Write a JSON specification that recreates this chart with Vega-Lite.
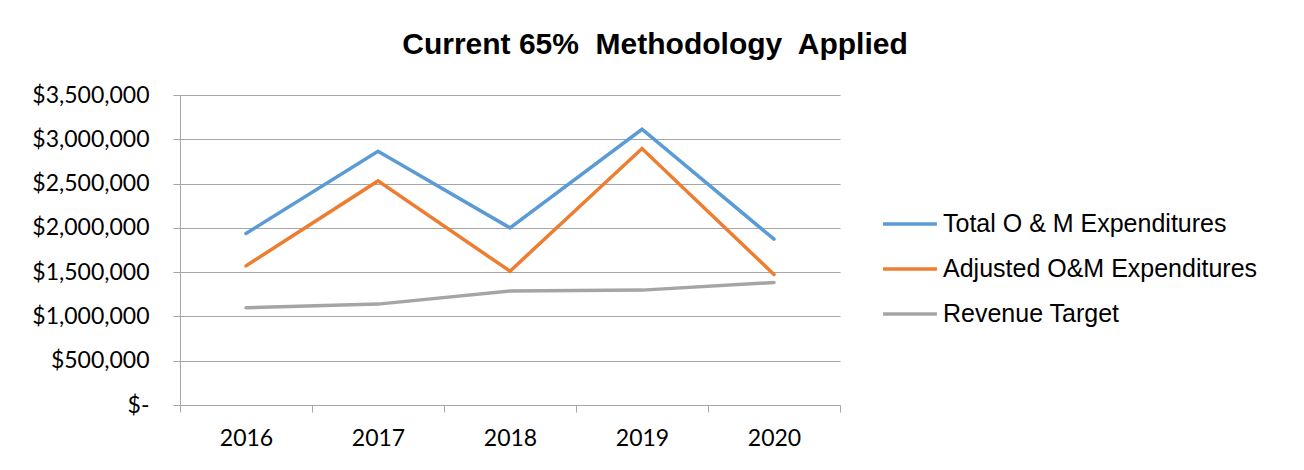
{
  "$schema": "https://vega.github.io/schema/vega-lite/v6.json",
  "width": 660,
  "height": 310,
  "autosize": {"type": "none"},
  "padding": {"left": 180, "top": 95, "right": 464, "bottom": 65},
  "background": "white",
  "title": {
    "text": "Current 65%\u00a0 Methodology\u00a0 Applied",
    "font": "Liberation Sans",
    "fontSize": 30,
    "fontWeight": "bold",
    "color": "#000000",
    "anchor": "middle",
    "frame": "group",
    "dx": 145,
    "offset": 24
  },
  "data": {
    "values": [
      {"year": 2016, "series": "Total O & M Expenditures", "value": 1936000},
      {"year": 2017, "series": "Total O & M Expenditures", "value": 2865000},
      {"year": 2018, "series": "Total O & M Expenditures", "value": 2000000},
      {"year": 2019, "series": "Total O & M Expenditures", "value": 3113000},
      {"year": 2020, "series": "Total O & M Expenditures", "value": 1872000},
      {"year": 2016, "series": "Adjusted O&M Expenditures", "value": 1571000},
      {"year": 2017, "series": "Adjusted O&M Expenditures", "value": 2530000},
      {"year": 2018, "series": "Adjusted O&M Expenditures", "value": 1511000},
      {"year": 2019, "series": "Adjusted O&M Expenditures", "value": 2895000},
      {"year": 2020, "series": "Adjusted O&M Expenditures", "value": 1474000},
      {"year": 2016, "series": "Revenue Target", "value": 1098000},
      {"year": 2017, "series": "Revenue Target", "value": 1139000},
      {"year": 2018, "series": "Revenue Target", "value": 1286000},
      {"year": 2019, "series": "Revenue Target", "value": 1297000},
      {"year": 2020, "series": "Revenue Target", "value": 1383000}
    ]
  },
  "mark": {"type": "line", "strokeWidth": 3.5, "strokeCap": "round", "strokeJoin": "miter"},
  "encoding": {
    "x": {
      "field": "year",
      "type": "quantitative",
      "scale": {"domain": [2015.5, 2020.5], "nice": false, "zero": false},
      "axis": {
        "title": null,
        "grid": false,
        "values": [2015.5, 2016, 2016.5, 2017, 2017.5, 2018, 2018.5, 2019, 2019.5, 2020, 2020.5],
        "labelExpr": "datum.value % 1 === 0 ? format(datum.value, 'd') : ''",
        "tickOpacity": {"expr": "datum.value % 1 === 0 ? 0 : 1"},
        "tickSize": 7,
        "tickColor": "#a6a6a6",
        "domainColor": "#a6a6a6",
        "labelFont": "Lato",
        "labelFontSize": 23,
        "labelColor": "#000000",
        "labelPadding": 15
      }
    },
    "y": {
      "field": "value",
      "type": "quantitative",
      "scale": {"domain": [0, 3500000], "nice": false},
      "axis": {
        "title": null,
        "values": [0, 500000, 1000000, 1500000, 2000000, 2500000, 3000000, 3500000],
        "labelExpr": "datum.value === 0 ? '$-' : format(datum.value, '$,.0f')",
        "gridColor": "#a6a6a6",
        "tickColor": "#a6a6a6",
        "domainColor": "#a6a6a6",
        "tickSize": 7,
        "labelFont": "Lato",
        "labelFontSize": 23,
        "labelColor": "#000000",
        "labelPadding": 24
      }
    },
    "color": {
      "field": "series",
      "type": "nominal",
      "sort": ["Total O & M Expenditures", "Adjusted O&M Expenditures", "Revenue Target"],
      "scale": {
        "domain": ["Total O & M Expenditures", "Adjusted O&M Expenditures", "Revenue Target"],
        "range": ["#5b9bd5", "#ed7d31", "#a5a5a5"]
      },
      "legend": {
        "title": null,
        "orient": "none",
        "legendX": 701,
        "legendY": 100,
        "symbolType": "stroke",
        "symbolSize": 2900,
        "symbolStrokeWidth": 3.5,
        "labelFont": "Liberation Sans",
        "labelFontSize": 25,
        "labelColor": "#000000",
        "labelOffset": 4,
        "rowPadding": 3,
        "labelLimit": 400
      }
    }
  },
  "config": {
    "view": {"stroke": null},
    "axis": {"domainWidth": 1, "gridWidth": 1}
  }
}
